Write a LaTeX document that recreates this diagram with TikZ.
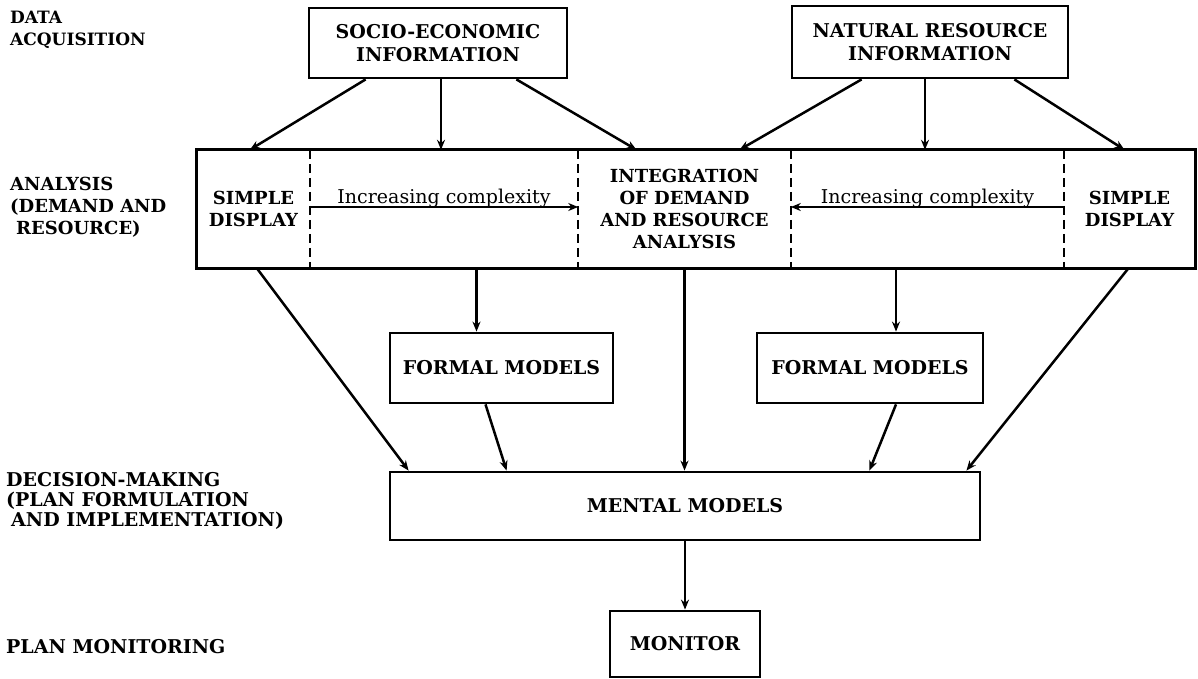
\documentclass[tikz,border=0pt]{standalone}
\usepackage{fontspec}
\setmainfont{DejaVu Serif}
\usetikzlibrary{arrows.meta,calc}
\begin{document}
\begin{tikzpicture}[x=1pt,y=-1pt,
  box/.style={draw,line width=2.8pt,inner sep=0pt,align=center,
    font=\bfseries\fontsize{19}{23}\selectfont},
  part/.style={inner sep=0pt,align=center,
    font=\bfseries\fontsize{18}{22}\selectfont},
  lab/.style={anchor=west,inner sep=0pt,align=left,
    font=\bfseries\fontsize{18}{22}\selectfont},
  arr/.style={line width=2.5pt,-{Stealth[length=10pt,width=8pt]}},
  sep/.style={line width=2.4pt,dash pattern=on 9pt off 5pt},
  note/.style={inner sep=1pt,font=\fontsize{19}{20}\selectfont},
]
\useasboundingbox (0,0) rectangle (1198,679);

% stage labels down the left margin
\node[lab,font=\bfseries\fontsize{17}{22}\selectfont] (lacq) at (10,30) {DATA\\ACQUISITION};
\node[lab] (lana) at (10,207) {ANALYSIS\\(DEMAND AND\\\hspace{6pt}RESOURCE)};
\node[lab,font=\bfseries\fontsize{19}{20}\selectfont] (ldec) at (6,501)
  {DECISION-MAKING\\(PLAN FORMULATION\\\hspace{5pt}AND IMPLEMENTATION)};
\node[lab,font=\bfseries\fontsize{19}{22}\selectfont] (lmon) at (6,647) {PLAN MONITORING};

% data sources
\node[box,minimum width=258pt,minimum height=70pt] (socio) at (438,43)
  {SOCIO-ECONOMIC\\INFORMATION};
\node[box,minimum width=276pt,minimum height=72pt] (natural) at (930,42)
  {NATURAL RESOURCE\\INFORMATION};

% analysis band, split into five parts
\node[part,minimum width=113pt,minimum height=118pt] (simpleL) at (253.5,209) {SIMPLE\\DISPLAY};
\node[part,minimum width=268pt,minimum height=118pt] (gradL) at (444,209) {};
\node[part,minimum width=213pt,minimum height=118pt] (integ) at (684.5,209)
  {INTEGRATION\\OF DEMAND\\AND RESOURCE\\ANALYSIS};
\node[part,minimum width=273pt,minimum height=118pt] (gradR) at (927.5,209) {};
\node[part,minimum width=131pt,minimum height=118pt] (simpleR) at (1129.5,209) {SIMPLE\\DISPLAY};
\draw[line width=2.8pt] (simpleL.north west) rectangle (simpleR.south east);
\draw[sep] (gradL.north west) -- (gradL.south west);
\draw[sep] (gradL.north east) -- (gradL.south east);
\draw[sep] (gradR.north west) -- (gradR.south west);
\draw[sep] (gradR.north east) -- (gradR.south east);

\draw[arr,line width=2.2pt] ([yshift=2pt]gradL.west) -- ([yshift=2pt]gradL.east)
  node[note,midway,above=-3pt] {Increasing complexity};
\draw[arr,line width=2.2pt] ([yshift=2pt]gradR.east) -- ([yshift=2pt]gradR.west)
  node[note,midway,above=-3pt] {Increasing complexity};

% models and monitoring
\node[box,minimum width=223pt,minimum height=70pt] (formalL) at (501.5,368) {FORMAL MODELS};
\node[box,minimum width=226pt,minimum height=70pt] (formalR) at (870,368) {FORMAL MODELS};
\node[box,minimum width=590pt,minimum height=68pt] (mental) at (685,506) {MENTAL MODELS};
\node[box,minimum width=150pt,minimum height=66pt] (monitor) at (685,644) {MONITOR};

% data flows into the analysis band
\draw[arr] ([xshift=58pt]socio.south west) -- ([xshift=53pt]simpleL.north west);
\draw[arr] ([xshift=3pt]socio.south) -- ([xshift=3pt]socio.south |- gradL.north);
\draw[arr] ([xshift=-52pt]socio.south east) -- ([xshift=-48pt]integ.north);
\draw[arr] ([xshift=71pt]natural.south west) -- ([xshift=55pt]integ.north);
\draw[arr] ([xshift=-5pt]natural.south) -- ([xshift=-5pt]natural.south |- gradR.north);
\draw[arr] ([xshift=-55pt]natural.south east) -- ([xshift=-5pt]simpleR.north);

% analysis into models
\draw[arr] ([xshift=60pt]simpleL.south west) -- ([xshift=20pt]mental.north west);
\draw[arr] ([xshift=-25pt]formalL.north |- gradL.south) -- ([xshift=-25pt]formalL.north);
\draw[arr] ([xshift=-16pt]formalL.south) -- ([xshift=118pt]mental.north west);
\draw[arr] (integ.south) -- (integ.south |- mental.north);
\draw[arr] ([xshift=26pt]formalR.north |- gradR.south) -- ([xshift=26pt]formalR.north);
\draw[arr] ([xshift=26pt]formalR.south) -- ([xshift=-112pt]mental.north east);
\draw[arr] ([xshift=-1pt]simpleR.south) -- ([xshift=-15pt]mental.north east);
\draw[arr] (mental.south -| monitor.north) -- (monitor.north);
\end{tikzpicture}
\end{document}
